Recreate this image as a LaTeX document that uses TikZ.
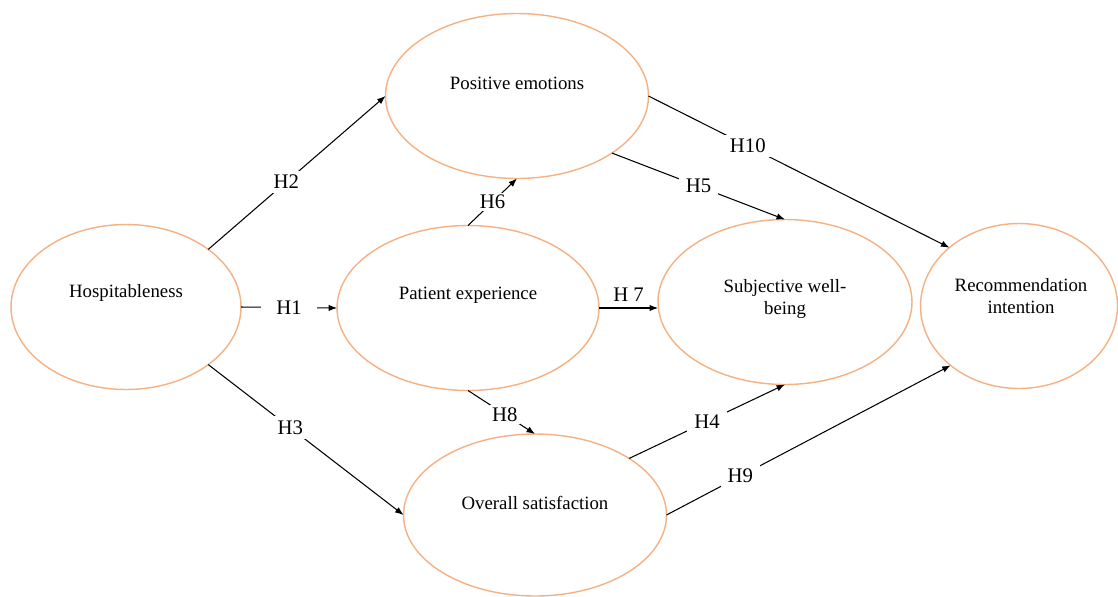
\documentclass[tikz,border=0pt]{standalone}
\usepackage{fontspec}
\setmainfont{Liberation Serif}
\usetikzlibrary{shapes.geometric,arrows.meta}
\definecolor{ellorange}{RGB}{244,177,131}
\tikzset{
  construct/.style={ellipse, draw=ellorange, line width=0.8pt, inner sep=0pt, outer sep=0pt},
  ctext/.style={font=\fontsize{10.7}{12.8}\selectfont, align=center},
  hyp/.style={fill=white, inner xsep=4pt, inner ysep=2.5pt, font=\fontsize{11.8}{14}\selectfont},
  arr/.style={-{Latex[length=1.7mm,width=1.3mm]}, line width=0.6pt}
}
\begin{document}
\begin{tikzpicture}[x=0.02cm, y=-0.02cm]
			\useasboundingbox (0,0) rectangle (1118,596);
			
			\node[construct, minimum width=4.6cm, minimum height=3.3cm] (hosp) at (126,307) {};
			\node[construct, minimum width=5.26cm, minimum height=3.3cm] (pos) at (517,96) {};
			\node[construct, minimum width=5.24cm, minimum height=3.3cm] (pat) at (468,308) {};
			\node[construct, minimum width=5.08cm, minimum height=3.3cm] (subj) at (785,302) {};
			\node[construct, minimum width=3.94cm, minimum height=3.3cm] (rec) at (1019,306) {};
			\node[construct, minimum width=5.26cm, minimum height=3.24cm] (sat) at (535,515) {};
			
			\node[ctext] (hosp-t) at (126,293) {Hospitableness};
			\node[ctext] (pos-t) at (517,83) {Positive emotions};
			\node[ctext] (pat-t) at (468,295) {Patient experience};
			\node[ctext] (subj-t) at (785,299) {Subjective well-\\being};
			\node[ctext] (rec-t) at (1021,296) {Recommendation\\intention};
			\node[ctext] (sat-t) at (535,503) {Overall satisfaction};
			
			\draw[arr] (hosp.east) -- node[hyp, inner xsep=9pt, pos=0.5] (h1) {H1} (pat.west);
			\draw[arr] (hosp.35) -- node[hyp, pos=0.44] (h2) {H2} (pos.west);
			\draw[arr] (hosp.-35) -- node[hyp, pos=0.42] (h3) {H3} (sat.west);
			\draw[arr] (sat.31) -- node[hyp, pos=0.5] (h4) {H4} (subj.south);
			\draw[arr] (pos.-31) -- node[hyp, pos=0.5] (h5) {H5} (subj.north);
			\draw[arr] (pat.north) -- node[hyp, inner sep=1pt, pos=0.5] (h6) {H6} (pos.south);
			\draw[arr] (pat.east) -- node[font=\fontsize{11.8}{14}\selectfont, above, pos=0.5] (h7) {H 7} (pat.east -| subj.west);
			\draw[arr] (pat.south) -- node[hyp, inner sep=1.5pt, pos=0.55] (h8) {H8} (sat.north);
			\draw[arr] (sat.east) -- node[hyp, pos=0.26] (h9) {H9} (rec.-139);
			\draw[arr] (pos.east) -- node[hyp, pos=0.33] (h10) {H10} (rec.140);
		\end{tikzpicture}
\end{document}
